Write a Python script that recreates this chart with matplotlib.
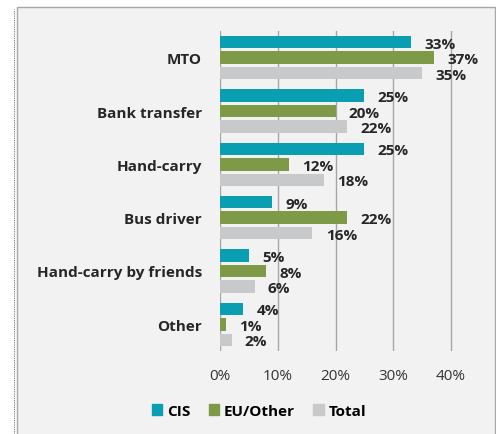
import matplotlib
matplotlib.use("Agg")
import matplotlib.pyplot as plt
from matplotlib.patches import Rectangle
from matplotlib.lines import Line2D
import numpy as np

categories = ["MTO", "Bank transfer", "Hand-carry", "Bus driver",
              "Hand-carry by friends", "Other"]
series = ["CIS", "EU/Other", "Total"]
cis = [33, 25, 25, 9, 5, 4]
eu_other = [37, 20, 12, 22, 8, 1]
total = [35, 22, 18, 16, 6, 2]
xticks = [0, 10, 20, 30, 40]

COLORS = ["#0a9eb3", "#7e9a46", "#c8c9cb"]
PANEL = "#f2f2f2"
FS = 11

plt.rcParams["font.family"] = ["Open Sans", "DejaVu Sans"]

fig = plt.figure(figsize=(4.96, 4.35), dpi=100)
fig.patch.set_facecolor("white")

# grey panel with thin frame behind the chart
fig.patches.append(Rectangle((17 / 496, -0.01), 478 / 496, 1 - 8 / 435 + 0.01,
                             transform=fig.transFigure, facecolor=PANEL,
                             edgecolor="#a8a8a8", linewidth=1.0, zorder=-10))
fig.lines.append(Line2D([14 / 496, 14 / 496], [0, 1 - 10 / 435],
                        transform=fig.transFigure, color="#777777",
                        linewidth=0.8, linestyle=(0, (1, 1)), zorder=-9))

ax = fig.add_axes([220 / 496, 1 - 352 / 435, (495 - 220) / 496, 320 / 435])
ax.patch.set_alpha(0)

n = len(categories)
y = np.arange(n)
h = 0.235
offs = [-0.29, 0.0, 0.29]
for vals, off, col in zip([cis, eu_other, total], offs, COLORS):
    bars = ax.barh(y + off, vals, height=h, color=col, zorder=3)
    for b, v in zip(bars, vals):
        ax.text(v + 2.3, b.get_y() + b.get_height() / 2 + 0.03, f"{v}%",
                va="center", ha="left", fontsize=FS, fontweight="bold",
                color="#262626", zorder=4)

ax.set_xlim(0, 47.6)
ax.set_ylim(n - 0.5, -0.5)
ax.set_yticks(y)
ax.set_yticklabels(categories, fontsize=FS, fontweight="bold", color="#262626")
ax.set_xticks(xticks)
ax.set_xticklabels([f"{t}%" for t in xticks], fontsize=FS, color="#333333")
ax.tick_params(axis="both", length=0)
ax.tick_params(axis="y", pad=13)
ax.tick_params(axis="x", pad=12)
for t in xticks:
    ax.axvline(t, color="#a6a6a6", linewidth=1.0, zorder=1)
for s in ax.spines.values():
    s.set_visible(False)

handles = [Rectangle((0, 0), 1, 1, color=c) for c in COLORS]
fig.legend(handles, series, loc="center", bbox_to_anchor=(259 / 496, 1 - 412 / 435),
           ncol=3, frameon=False, handlelength=0.7, handleheight=0.7,
           handletextpad=0.3, columnspacing=1.2,
           prop={"size": FS, "weight": "bold"})

fig.savefig("out.png", dpi=100)
